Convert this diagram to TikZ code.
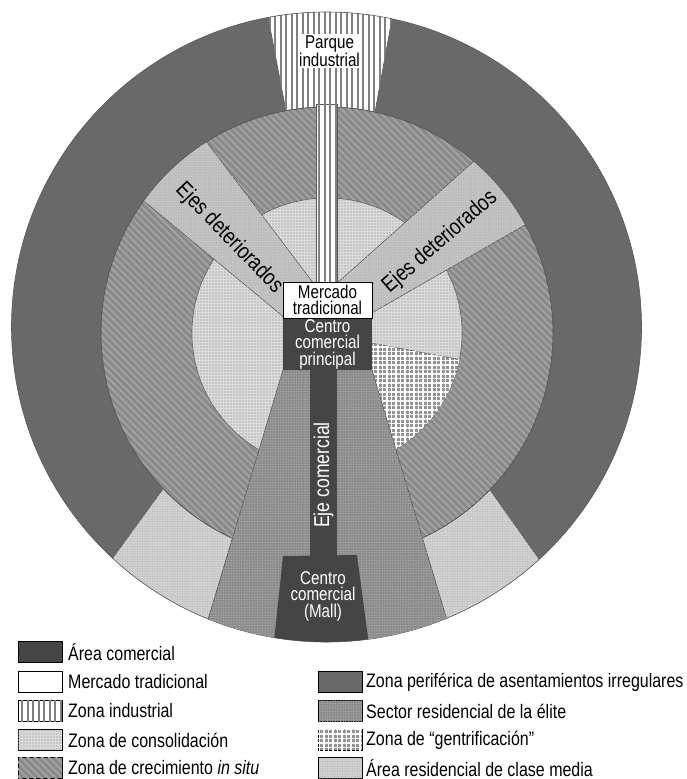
\documentclass[tikz,border=0pt]{standalone}
\usepackage{fontspec}
\setmainfont[FakeStretch=0.82]{Liberation Sans}
\usetikzlibrary{patterns.meta}
\definecolor{comer}{gray}{0.27}
\definecolor{perif}{gray}{0.41}
\definecolor{situ}{gray}{0.54}
\definecolor{situl}{gray}{0.64}
\definecolor{elite}{gray}{0.55}
\definecolor{elitel}{gray}{0.68}
\definecolor{consol}{gray}{0.86}
\definecolor{consold}{gray}{0.70}
\definecolor{medio}{gray}{0.82}
\definecolor{mediod}{gray}{0.72}
\definecolor{ejes}{gray}{0.74}
\definecolor{ejesl}{gray}{0.82}
\definecolor{gentri}{gray}{0.58}
\definecolor{indc}{gray}{0.50}
\definecolor{edge}{gray}{0.35}
\tikzset{
  edgeline/.style={draw=edge, line width=0.6pt},
  perifz/.style={fill=perif},
  comerz/.style={fill=comer},
  situz/.style={fill=situ, postaction={pattern={Lines[angle=-45,distance=5pt,line width=1.8pt]}, pattern color=situl}},
  consolz/.style={fill=consol, postaction={pattern={Dots[radius=0.8pt,distance=3pt]}, pattern color=consold}},
  elitez/.style={fill=elite, postaction={pattern={Dots[radius=0.7pt,distance=2.6pt]}, pattern color=elitel}},
  gentriz/.style={fill=gentri, postaction={pattern={Hatch[distance=4.5pt,line width=1.3pt]}, pattern color=white}},
  medioz/.style={fill=medio, postaction={pattern={Dots[radius=0.55pt,distance=2.5pt]}, pattern color=mediod}},
  ejesz/.style={fill=ejes, postaction={pattern={Dots[radius=0.55pt,distance=2.5pt]}, pattern color=ejesl}},
  indz/.style={fill=white, postaction={pattern={Lines[angle=90,distance=5.5pt,line width=2pt]}, pattern color=indc}},
  lbl/.style={font=\fontsize{18.5}{16.5}\selectfont, align=center, inner sep=1pt},
  bandlbl/.style={font=\fontsize{22.5}{23}\selectfont, inner sep=0pt},
  legtxt/.style={anchor=west, font=\fontsize{19.5}{20}\selectfont, inner sep=0pt},
  swatch/.style={draw=black, line width=0.8pt, minimum width=44pt, minimum height=21pt, inner sep=0pt},
}
\begin{document}
\begin{tikzpicture}[x=1pt,y=-1pt]
\useasboundingbox (0,0) rectangle (686,779);
\coordinate (O) at (326.5,327);
\coordinate (M) at (327,333);
% outer ring: peripheral zone
\fill[perifz] (O) circle[radius=315];
\begin{scope}
  \clip (O) circle[radius=315];
  % middle-class areas
  \fill[medioz, edgeline] (163,489) -- (88,592) -- (90,720) -- (178,720) -- (283,370) -- cycle;
  \fill[medioz, edgeline] (490,490) -- (600,645) -- (560,720) -- (476,720) -- (372,370) -- cycle;
  % industrial park
  \fill[indz, edgeline] (303,200) -- (261,-20) -- (399,-20) -- (359,200) -- cycle;
\end{scope}
\draw[edgeline] (O) circle[radius=315];
% in situ ring
\fill[situz, edgeline] (M) circle[radius=226];
% consolidation
\fill[consolz, edgeline] (M) circle[radius=135];
% gentrification
\begin{scope}
  \clip (M) circle[radius=135];
  \fill[gentriz, edgeline] (360,341) -- (495,366) -- (495,520) -- (400,520) -- (365,370) -- cycle;
\end{scope}
% deteriorated axes
\begin{scope}
  \clip (M) circle[radius=226];
  \fill[ejesz, edgeline] (297,328) -- (115,177) -- (184,112) -- (323,296) -- cycle;
  \fill[ejesz, edgeline] (326,293) -- (519,121) -- (577,195) -- (356,322) -- cycle;
\end{scope}
\draw[edgeline] (M) circle[radius=226];
% elite sector and mall
\begin{scope}
  \clip (O) circle[radius=315];
  \fill[elitez, edgeline] (283,370) -- (372,370) -- (471,700) -- (184,700) -- cycle;
  \fill[comerz] (283,556) -- (357,555) -- (371,660) -- (272,660) -- cycle;
\end{scope}
% industrial strip
\fill[indz, edgeline] (316,104) rectangle (337,284);
% commercial axis
\fill[comerz] (310,368) rectangle (337,558);
% boxes
\fill[comerz] (283,318) rectangle (372,370);
\draw[fill=white, draw=black, line width=0.8pt] (283,282) rectangle (372,318);
% labels
\node[lbl, fill=white] (parque) at (329.5,51) {Parque\\industrial};
\node[lbl] (mercado) at (327.5,300) {Mercado\\tradicional};
\node[lbl, text=white] (centro) at (327.5,344) {Centro\\comercial\\principal};
\node[lbl, text=white] (mall) at (323,596) {Centro\\comercial\\(Mall)};
\node[bandlbl, text=white, rotate=90, font=\fontsize{21.5}{22}\selectfont] (ejecom) at (323.5,475) {Eje comercial};
\node[bandlbl, rotate=-46] (ejeL) at (229,238) {Ejes deteriorados};
\node[bandlbl, rotate=41] (ejeR) at (440,242) {Ejes deteriorados};
% legend
\node[swatch, comerz] (s1) at (40,652) {};
\node[legtxt] (t1) at (68,652) {Área comercial};
\node[swatch, fill=white] (s2) at (40,682) {};
\node[legtxt] (t2) at (68,682) {Mercado tradicional};
\node[swatch, indz] (s3) at (40,711) {};
\node[legtxt] (t3) at (68,711) {Zona industrial};
\node[swatch, consolz] (s4) at (40,740) {};
\node[legtxt] (t4) at (68,740) {Zona de consolidación};
\node[swatch, situz] (s5) at (40,768) {};
\node[legtxt] (t5) at (68,768) {Zona de crecimiento \textit{in situ}};
\node[swatch, perifz] (s6) at (340,682) {};
\node[legtxt] (t6) at (366,682) {Zona periférica de asentamientos irregulares};
\node[swatch, elitez] (s7) at (340,711) {};
\node[legtxt] (t7) at (366,711) {Sector residencial de la élite};
\node[swatch, gentriz] (s8) at (340,740) {};
\node[legtxt] (t8) at (366,740) {Zona de “gentrificación”};
\node[swatch, medioz] (s9) at (340,768) {};
\node[legtxt] (t9) at (366,768) {Área residencial de clase media};
\end{tikzpicture}
\end{document}
